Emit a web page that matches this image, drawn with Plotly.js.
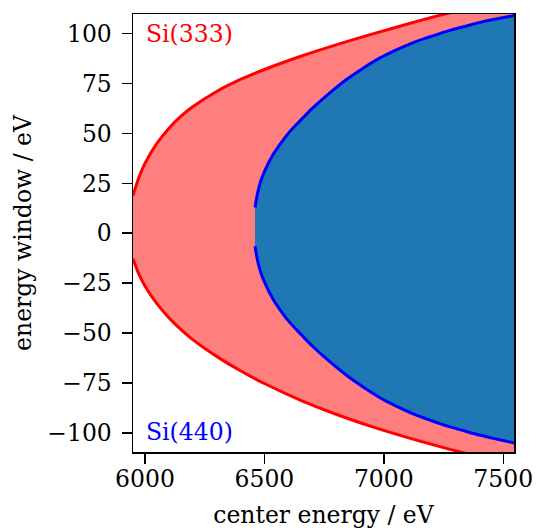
<!DOCTYPE html>
<html>
<head>
<meta charset="utf-8">
<script src="https://cdn.plot.ly/plotly-3.0.1.min.js"></script>
<style>html,body{margin:0;padding:0;background:#fff;}#chart{width:539px;height:529px;}</style>
</head>
<body>
<div id="chart"></div>
<script>
// Si(333): center energy (eV) and upper / lower edge of the energy window (eV)
const si333_E       = [5950, 5975, 6000, 6050, 6100, 6150, 6200, 6300, 6400, 6500, 6650, 6800, 6950, 7100, 7250, 7400, 7550];
const si333_upper_W = [18.8, 28, 35, 45, 52.5, 58.5, 63.3, 71, 77, 82, 88.5, 94.3, 99.7, 104.8, 109.6, 114, 118];
const si333_lower_W = [-12.8, -20.6, -26.4, -35.3, -42.3, -48.2, -53.3, -61.7, -68.9, -75.3, -83.6, -90.7, -96.9, -102.4, -107.4, -111.9, -115.9];
// Si(440)
const si440_E       = [6461, 6470, 6482, 6500, 6537, 6570, 6607, 6655, 6705, 6775, 6845, 6915, 6984, 7050, 7123, 7190, 7263, 7333, 7403, 7475, 7547];
const si440_upper_W = [12.9, 19.2, 25.0, 30.8, 39.5, 45.3, 51.0, 57.0, 63.0, 70.4, 77.1, 82.8, 87.8, 91.7, 95.5, 98.3, 101.1, 103.4, 105.6, 107.4, 109.1];
const si440_lower_W = [-6.5, -12.8, -18.6, -24.4, -33.2, -39.1, -44.8, -50.9, -57.0, -64.5, -71.3, -77.2, -82.4, -86.5, -90.5, -93.5, -96.5, -98.9, -101.2, -103.2, -105.1];

const xTicks = [6000, 6500, 7000, 7500];
const yTicks = [-100, -75, -50, -25, 0, 25, 50, 75, 100];

const FONT = "DejaVu Serif";
const FS = 23.5;
const SM = 1;

const traces = [
  {x: si333_E, y: si333_lower_W, mode: 'lines', line: {color: '#ff0000', width: 3, shape: 'spline', smoothing: SM}},
  {x: si333_E, y: si333_upper_W, mode: 'lines', fill: 'tonexty', fillcolor: 'rgba(255,0,0,0.5)',
   line: {color: '#ff0000', width: 3, shape: 'spline', smoothing: SM}},
  {x: si440_E, y: si440_lower_W, mode: 'lines', line: {color: '#0000ff', width: 3, shape: 'spline', smoothing: SM}},
  {x: si440_E, y: si440_upper_W, mode: 'lines', fill: 'tonexty', fillcolor: '#1f77b4',
   line: {color: '#0000ff', width: 3, shape: 'spline', smoothing: SM}}
];

const layout = {
  width: 539, height: 529,
  margin: {l: 133, r: 25, t: 14, b: 77, pad: 0},
  paper_bgcolor: '#fff', plot_bgcolor: '#fff',
  showlegend: false,
  font: {family: FONT, size: FS, color: '#000'},
  xaxis: {
    range: [5950, 7545], tickvals: xTicks, ticktext: xTicks.map(String),
    ticks: 'outside', ticklen: 10, tickwidth: 1.5, tickcolor: '#000',
    ticklabelstandoff: -5,
    showline: true, mirror: true, linecolor: '#000', linewidth: 1.5,
    showgrid: false, zeroline: false,
    tickfont: {family: FONT, size: FS},
    title: {text: 'center energy / eV', font: {family: FONT, size: FS}, standoff: 15}
  },
  yaxis: {
    range: [-109.6, 109.8], tickvals: yTicks, ticktext: yTicks.map(v => v < 0 ? '\u2212' + Math.abs(v) : String(v)),
    ticks: 'outside', ticklen: 10, tickwidth: 1.5, tickcolor: '#000',
    ticklabelstandoff: 5,
    showline: true, mirror: true, linecolor: '#000', linewidth: 1.5,
    showgrid: false, zeroline: false,
    tickfont: {family: FONT, size: FS},
    title: {text: 'energy window / eV', font: {family: FONT, size: FS}, standoff: 9}
  },
  annotations: [
    {text: 'Si(333)', xref: 'paper', yref: 'paper', x: 0.029, y: 0.955, xanchor: 'left', yanchor: 'middle',
     showarrow: false, font: {family: FONT, size: FS, color: '#ff0000'}},
    {text: 'Si(440)', xref: 'paper', yref: 'paper', x: 0.029, y: 0.045, xanchor: 'left', yanchor: 'middle',
     showarrow: false, font: {family: FONT, size: FS, color: '#0000ff'}}
  ]
};

Plotly.newPlot('chart', traces, layout, {staticPlot: true, displayModeBar: false});
</script>
</body>
</html>
